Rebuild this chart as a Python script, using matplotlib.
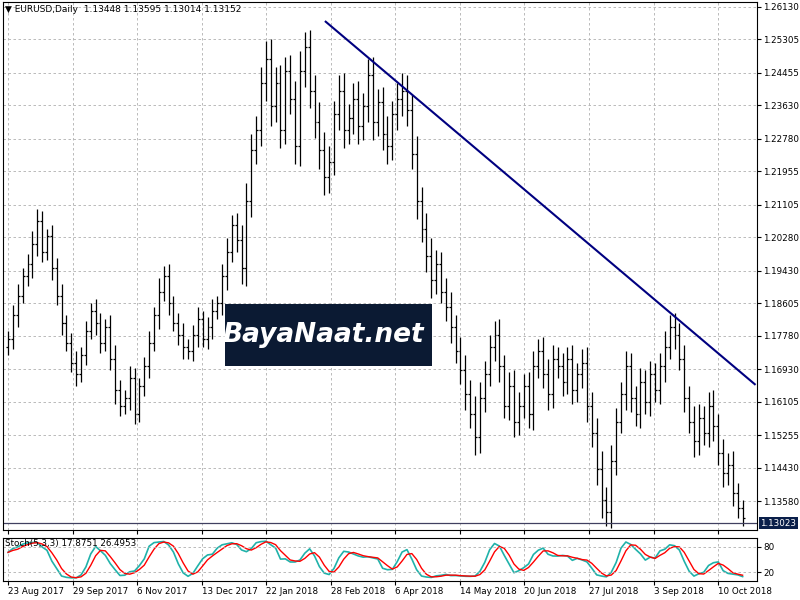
import matplotlib
matplotlib.use("Agg")
import matplotlib.pyplot as plt
import numpy as np
import pandas as pd
from matplotlib.patches import Rectangle

close = [1.177,1.183,1.188,1.193,1.196,1.201,1.207,1.199,1.203,1.195,
 1.188,1.181,1.176,1.171,1.168,1.173,
 1.179,1.184,1.181,1.176,1.180,1.172,
 1.164,1.160,1.162,1.167,1.158,1.165,
 1.170,1.176,1.183,1.189,1.193,1.186,1.181,1.178,1.175,
 1.174,1.178,1.182,1.177,1.180,1.184,1.186,
 1.193,1.199,1.206,1.202,1.195,
 1.212,1.225,1.230,1.242,
 1.248,1.236,1.242,1.230,1.245,
 1.238,1.226,1.245,1.251,
 1.240,1.232,1.225,1.218,1.222,
 1.234,1.240,1.230,1.233,1.238,1.231,1.236,1.244,
 1.232,1.237,1.229,1.226,1.234,1.238,1.240,1.235,
 1.224,1.212,1.205,1.198,1.192,1.196,
 1.189,1.185,1.180,1.174,1.169,
 1.163,1.158,1.152,1.162,1.168,1.175,
 1.178,1.170,1.160,1.165,1.156,1.160,
 1.165,1.158,1.170,1.174,1.168,1.163,1.172,
 1.170,1.166,1.172,1.164,1.168,1.171,1.160,
 1.153,1.144,1.136,1.133,1.146,
 1.156,1.163,1.170,1.162,1.158,1.166,1.161,
 1.168,1.164,1.170,1.175,1.180,1.178,1.172,
 1.162,1.156,1.151,1.157,1.153,1.160,1.155,
 1.148,1.143,1.145,1.138,1.134,1.1315]
spread = [4,5,6,4,5,7,6,5,4,6, 5,6,4,5,6,4, 5,4,6,5,4,6, 7,5,4,6,5,4,
 5,6,4,7,5,6,4,5,6, 4,5,6,4,5,6,4, 6,7,5,6,8, 9,8,7,8, 9,10,8,9,7,
 8,9,10,8, 9,8,10,9,8, 7,8,9,7,8,9,7,8, 9,7,8,9,7,8,9,8,
 8,9,7,8,9,7, 6,7,8,6,7, 8,7,9,8,7,6, 7,8,6,7,8,7, 6,7,8,6,7,8,7,
 6,7,6,7,6,7,8, 7,8,9,7,8, 7,6,8,7,6,7,6, 7,6,7,8,6,7,6,
 7,6,8,7,6,7,8, 6,7,6,7,5,4]
tick_labels = ["23 Aug 2017","29 Sep 2017","6 Nov 2017","13 Dec 2017","22 Jan 2018",
 "28 Feb 2018","6 Apr 2018","14 May 2018","20 Jun 2018","27 Jul 2018","3 Sep 2018","10 Oct 2018"]
tick_idx = [0,13.3,26.5,39.8,53.1,66.3,79.6,92.9,106.1,119.4,132.7,145.9]
price_ticks = [1.26130,1.25305,1.24455,1.23630,1.22780,1.21955,1.21105,1.20280,1.19430,
 1.18605,1.17780,1.16930,1.16105,1.15255,1.14430,1.13580]
trend_x = [65.3, 153.5]
trend_y = [1.2575, 1.1655]
last_price = 1.13023

c = np.array(close); s = np.array(spread)*0.001
o = np.r_[c[0]-0.002, c[:-1]]
hi = np.maximum(o, c) + s*0.5
lo = np.minimum(o, c) - s*0.5
x = np.arange(len(c))

W = 754/800
fig = plt.figure(figsize=(8,6), dpi=100)
ax = fig.add_axes([0.004, 1-530/600, W, 528/600])
ax2 = fig.add_axes([0.004, 19/600, W, 43/600])
for a in (ax, ax2):
    a.set_xlim(-1, 154)
    a.yaxis.tick_right()
    a.tick_params(labelsize=6.3, length=3, pad=1.5, direction='out')
    for sp in a.spines.values(): sp.set_color('black'); sp.set_linewidth(0.8)

ax.vlines(x, lo, hi, color='black', lw=0.9)
ax.hlines(o, x-0.4, x, color='black', lw=0.9)
ax.hlines(c, x, x+0.4, color='black', lw=0.9)
ax.set_ylim(1.1285, 1.2625)
ax.set_yticks(price_ticks)
ax.set_yticklabels([f"{p:.5f}" for p in price_ticks])
ax.set_xticks(tick_idx); ax.set_xticklabels([])
ax.grid(True, color='#b0b0b0', ls=(0,(3,3)), lw=0.6)
ax.plot(trend_x, trend_y, color='#000080', lw=1.5, clip_on=True)
ax.axhline(last_price, color='#404060', lw=0.9)
ax.text(1.004, last_price, f"{last_price:.5f}", transform=ax.get_yaxis_transform(),
        fontsize=6.3, color='white', va='center', ha='left',
        bbox=dict(boxstyle='square,pad=0.15', fc='#0a1f4a', ec='none'))
ax.text(0.003, 0.995, "▼ EURUSD,Daily  1.13448 1.13595 1.13014 1.13152", transform=ax.transAxes,
        fontsize=6.5, va='top', ha='left')
ax.add_patch(Rectangle((222/754, 1-364/528), 207/754, 62/528, transform=ax.transAxes,
                       fc='#0b1a33', ec='none', zorder=5))
ax.text((222+98)/754, 1-333/528, "BayaNaat.net", transform=ax.transAxes, color='white',
        fontsize=19, style='italic', weight='bold', ha='center', va='center', zorder=6)

cs = pd.Series(c); hs = pd.Series(hi); ls = pd.Series(lo)
hh = hs.rolling(5, min_periods=1).max(); ll = ls.rolling(5, min_periods=1).min()
k = ((cs-ll).rolling(3, min_periods=1).sum()/(hh-ll).rolling(3, min_periods=1).sum()*100)
d = k.rolling(3, min_periods=1).mean()
ax2.plot(x, k, color='#20b2aa', lw=1.2)
ax2.plot(x, d, color='red', lw=1.0)
ax2.set_ylim(0, 100)
ax2.set_yticks([20, 80])
ax2.axhline(20, color='#b0b0b0', ls=(0,(3,3)), lw=0.6)
ax2.axhline(80, color='#b0b0b0', ls=(0,(3,3)), lw=0.6)
ax2.set_xticks(tick_idx)
ax2.set_xticklabels(tick_labels, ha='left', fontsize=6.3)
ax2.grid(True, axis='x', color='#b0b0b0', ls=(0,(3,3)), lw=0.6)
ax2.text(0.003, 0.97, "Stoch(5,3,3) 17.8751 26.4953", transform=ax2.transAxes, fontsize=6.3,
         va='top', ha='left')
fig.savefig("out.png", dpi=100)
